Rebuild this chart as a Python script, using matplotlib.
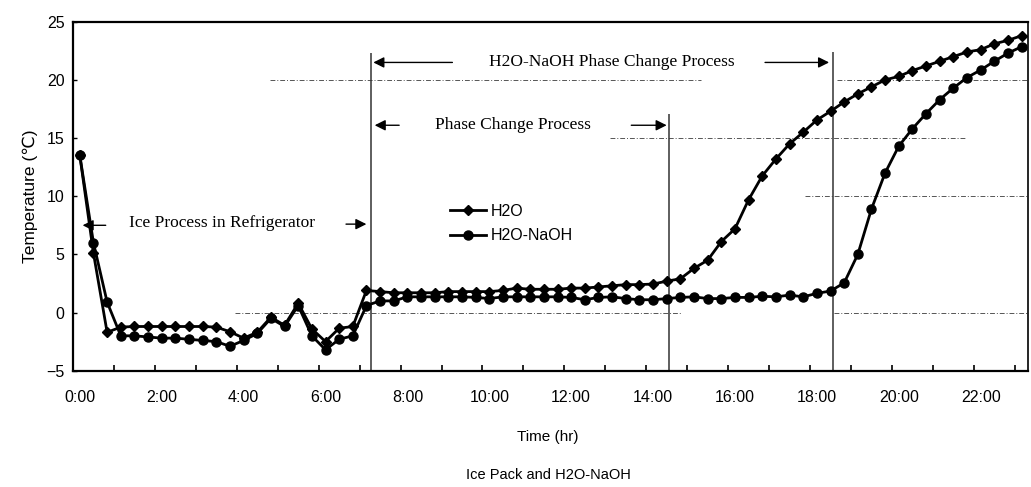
import matplotlib as mpl
mpl.use('Agg')
import matplotlib.pyplot as plt
import numpy as np

plt.rcParams['font.family'] = ['Liberation Sans', 'DejaVu Sans']

# readings every 20 min, 0:00 .. 23:00
h2o = [13.5, 5.1, -1.7, -1.25, -1.2, -1.2, -1.2, -1.2, -1.2, -1.2,
       -1.25, -1.65, -2.2, -1.7, -0.4, -1.1, 0.8, -1.4, -2.5, -1.35,
       -1.2, 1.9, 1.8, 1.7, 1.7, 1.7, 1.7, 1.8, 1.8, 1.8,
       1.8, 1.9, 2.1, 2.0, 2.0, 2.0, 2.1, 2.1, 2.2, 2.3,
       2.4, 2.4, 2.45, 2.7, 2.9, 3.8, 4.5, 6.1, 7.2, 9.7,
       11.75, 13.2, 14.5, 15.5, 16.55, 17.3, 18.1, 18.8, 19.4, 20.0,
       20.3, 20.8, 21.2, 21.6, 22.0, 22.4, 22.6, 23.1, 23.4, 23.8]
h2o_naoh = [13.5, 6.0, 0.9, -2.0, -2.0, -2.1, -2.2, -2.2, -2.3, -2.4,
            -2.5, -2.9, -2.4, -1.8, -0.5, -1.2, 0.6, -2.0, -3.2, -2.3,
            -2.0, 0.6, 1.0, 1.0, 1.35, 1.35, 1.35, 1.35, 1.35, 1.3,
            1.2, 1.35, 1.35, 1.35, 1.35, 1.35, 1.3, 1.1, 1.3, 1.35,
            1.2, 1.1, 1.1, 1.2, 1.3, 1.35, 1.2, 1.2, 1.3, 1.3,
            1.4, 1.35, 1.5, 1.35, 1.65, 1.85, 2.55, 5.0, 8.9, 12.0,
            14.3, 15.8, 17.1, 18.3, 19.3, 20.2, 20.85, 21.6, 22.3, 22.85]
time_labels = ['0:00', '2:00', '4:00', '6:00', '8:00', '10:00',
               '12:00', '14:00', '16:00', '18:00', '20:00', '22:00']

x = np.arange(len(h2o))

fig = plt.figure(figsize=(10.31, 4.87), dpi=100)
ax = fig.add_axes([0.0708, 0.2388, 0.9267, 0.7166])

### broken grid lines left over from the scan
grid_kw = dict(color='#555555', lw=0.7, ls=(0, (5, 2, 1, 2)), zorder=1)
ax.axhline(20, 0.206, 0.657, **grid_kw)
ax.axhline(20, 0.80, 1.0, **grid_kw)
ax.axhline(15, 0.562, 0.934, **grid_kw)
ax.axhline(10, 0.766, 1.0, **grid_kw)
ax.axhline(0, 0.17, 0.636, **grid_kw)
ax.axhline(0, 0.796, 1.0, **grid_kw)

### the two series
ax.plot(x, h2o, '-D', color='black', lw=2.0, ms=5, label='H2O', zorder=3)
ax.plot(x, h2o_naoh, '-o', color='black', lw=2.0, ms=6.5, label='H2O-NaOH', zorder=3)

### process boundaries
ax.vlines([21.3, 43.2, 55.2], -5, [22.3, 17.1, 22.4], color='#333333', lw=1.1, zorder=2)

serif = dict(family='Liberation Serif', fontsize=12.5, ha='center', va='center')
arr = dict(arrowstyle='-|>', color='black', lw=1, mutation_scale=16)

ax.text(10.4, 7.7, 'Ice Process in Refrigerator', **serif)
ax.annotate('', xy=(0.0, 7.5), xytext=(2.1, 7.5), arrowprops=arr)
ax.annotate('', xy=(21.2, 7.6), xytext=(19.3, 7.6), arrowprops=arr)

ax.text(39.0, 21.5, 'H2O-NaOH Phase Change Process', **serif)
ax.annotate('', xy=(21.3, 21.5), xytext=(27.5, 21.5), arrowprops=arr)
ax.annotate('', xy=(55.1, 21.5), xytext=(50.0, 21.5), arrowprops=arr)

ax.text(31.7, 16.1, 'Phase Change Process', **serif)
ax.annotate('', xy=(21.4, 16.1), xytext=(23.6, 16.1), arrowprops=arr)
ax.annotate('', xy=(43.2, 16.1), xytext=(40.2, 16.1), arrowprops=arr)

### axes
ax.set_xlim(-0.5, len(h2o) - 0.5)
ax.set_ylim(-5, 25)
ax.set_yticks(np.arange(-5, 26, 5))
ax.set_xticks(np.arange(0, len(h2o), 6))
ax.set_xticklabels(time_labels)
ax.set_xticks(np.arange(2.5, len(h2o) - 1, 3), minor=True)
ax.tick_params(axis='x', which='major', length=0, pad=14, labelsize=11.5)
ax.tick_params(axis='x', which='minor', direction='in', length=4, width=1.2)
ax.tick_params(axis='y', direction='in', length=3, width=1, pad=6, labelsize=11.5)

for side in ['left', 'bottom', 'top']:
    ax.spines[side].set_linewidth(1.6)
ax.spines['right'].set_linewidth(1.2)

ax.set_ylabel('Temperature (\u2103)', fontsize=12.5, labelpad=6)
fig.text(0.531, 0.103, 'Time (hr)', ha='center', va='center', fontsize=11)
fig.text(0.532, 0.025, 'Ice Pack and H2O-NaOH', ha='center', va='center', fontsize=10.5)

ax.legend(loc='upper left', bbox_to_anchor=(0.38, 0.52), frameon=False,
          fontsize=11.5, handlelength=2.2, labelspacing=0.6, handletextpad=0.3)

fig.savefig('out.png', dpi=100)
